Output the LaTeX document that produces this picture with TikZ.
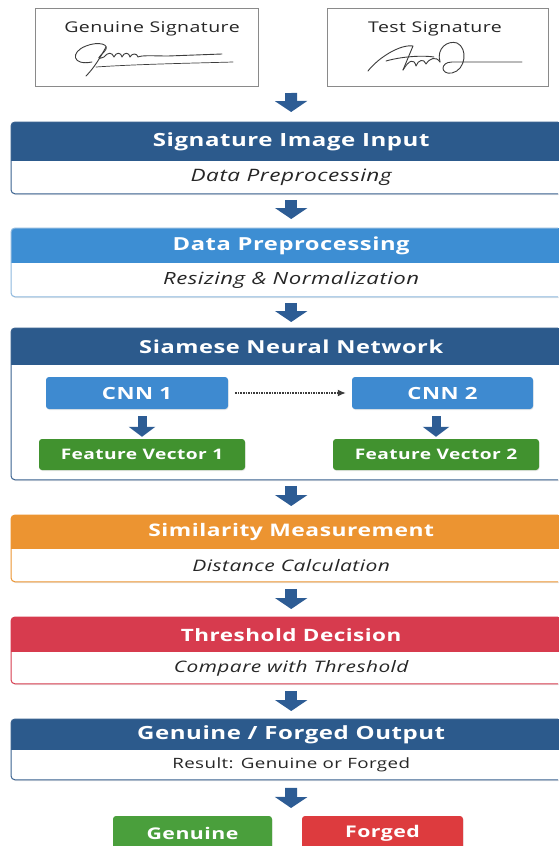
\documentclass[tikz,border=0pt]{standalone}
\usepackage{fontspec}
\setmainfont{Open Sans}[FakeStretch=1.32, LetterSpace=3]
\usetikzlibrary{arrows.meta,backgrounds,shadows}

\definecolor{navy}{HTML}{2C5A8C}
\definecolor{navyedge}{HTML}{3A6290}
\definecolor{skyband}{HTML}{3D8ED3}
\definecolor{skyedge}{HTML}{8DB8DE}
\definecolor{cnnblue}{HTML}{3E8AD0}
\definecolor{leafgreen}{HTML}{41922F}
\definecolor{okgreen}{HTML}{4A9F3C}
\definecolor{amber}{HTML}{EC9431}
\definecolor{crimson}{HTML}{D73B4E}
\definecolor{alarm}{HTML}{DD3B3E}
\definecolor{arrowblue}{HTML}{2D5C94}
\definecolor{ink}{HTML}{262626}
\definecolor{sigedge}{HTML}{8A8A8A}

\newcommand\titlefont[1]{\fontsize{#1}{21}\selectfont\bfseries}
\newcommand\notefont[1]{\fontsize{#1}{19}\selectfont\itshape}

% white stage frame with a coloured title band: band node, lower node, band colour, edge colour
\newcommand\stageframe[4]{%
  \begin{pgfonlayer}{background}
    \fill[white, rounded corners=4pt,
          drop shadow={opacity=0.18, shadow xshift=0.6pt, shadow yshift=-1.2pt}]
      (#1.north west) rectangle (#2.south east);
    \begin{scope}
      \clip[rounded corners=4pt] (#1.north west) rectangle (#2.south east);
      \fill[#3] (#1.north west) rectangle (#1.south east);
    \end{scope}
  \end{pgfonlayer}
  \draw[#4, line width=1pt, rounded corners=4pt] (#1.north west) rectangle (#2.south east);
}

\tikzset{
  band/.style={rectangle, minimum width=560pt, minimum height=#1, inner sep=0pt,
               anchor=north west, text=white},
  lower/.style={rectangle, minimum width=560pt, minimum height=#1, inner sep=0pt,
                anchor=north west, text=ink},
  sigbox/.style={rectangle, draw=sigedge, line width=0.8pt, fill=white, anchor=north west,
                 minimum width=#1, minimum height=78pt, inner sep=0pt},
  siglabel/.style={anchor=base, text=ink, font=\fontsize{14.8}{18}\selectfont},
  sigink/.style={draw=ink!90, line width=0.9pt, line cap=round, line join=round},
  tile/.style={rectangle, rounded corners=3pt, inner sep=0pt, text=white,
               drop shadow={opacity=0.18, shadow xshift=0.5pt, shadow yshift=-1pt}},
  blockarrow/.style={draw=arrowblue, line width=12pt,
                     -{Triangle[width=32pt, length=11pt]}},
  smallarrow/.style={draw=arrowblue, line width=9pt,
                     -{Triangle[width=26pt, length=10pt]}},
}

\begin{document}
\begin{tikzpicture}[x=1pt, y=-1pt]
\useasboundingbox (0,0) rectangle (558,846);
\clip (0,0) rectangle (558,846);

% ---------- input signatures ----------
\node[sigbox=223pt] (gbox) at (35,8) {};
\node[siglabel] (glabel) at (152,32) {Genuine Signature};
\node[sigbox=221pt] (tbox) at (327,8) {};
\node[siglabel] (tlabel) at (435,32) {Test Signature};

% genuine signature strokes
\draw[sigink] (92,62) .. controls (72,66) and (70,52) .. (86,46)
  .. controls (98,41) and (112,44) .. (104,52)
  .. controls (98,58) and (96,60) .. (104,57)
  .. controls (108,52) and (112,52) .. (114,57)
  .. controls (116,52) and (121,52) .. (122,57)
  .. controls (124,52) and (129,52) .. (130,57)
  .. controls (132,53) and (137,53) .. (138,57)
  .. controls (142,55) and (155,56) .. (168,56) -- (222,54);
\draw[sigink] (106,47) .. controls (100,58) and (94,68) .. (86,76);
\draw[sigink, line width=0.7pt] (96,67) .. controls (140,64) and (200,63) .. (233,62);

% test signature strokes
\draw[sigink] (368,71) .. controls (378,58) and (400,44) .. (413,46) -- (403,70);
\draw[sigink] (386,61) .. controls (400,57) and (420,55) .. (434,57);
\draw[sigink] (403,70) .. controls (409,60) and (414,58) .. (416,66)
  .. controls (418,60) and (424,58) .. (426,64)
  .. controls (430,58) and (436,56) .. (440,62);
\draw[sigink] (440,62) .. controls (436,48) and (448,40) .. (457,43)
  .. controls (468,48) and (466,70) .. (452,73)
  .. controls (440,75) and (440,62) .. (452,62) -- (522,62);

\coordinate (sigjoin) at (291,86);

% ---------- stage 1 ----------
\node[band=39pt, font=\titlefont{18.2}] (t1) at (11,122) {Signature Image Input};
\node[lower=32pt, font=\notefont{17.1}] (d1) at (t1.south west) {Data Preprocessing};
\stageframe{t1}{d1}{navy}{navyedge}

% ---------- stage 2 ----------
\node[band=35pt, font=\titlefont{18}] (t2) at (11,228) {Data Preprocessing};
\node[lower=33pt, font=\notefont{16.8}] (d2) at (t2.south west) {Resizing \& Normalization};
\stageframe{t2}{d2}{skyband}{skyedge}

% ---------- stage 3: siamese network ----------
\node[band=37pt, font=\titlefont{17.9}] (t3) at (11,328) {Siamese Neural Network};
\node[lower=114pt] (d3) at (t3.south west) {};
\stageframe{t3}{d3}{navy}{navyedge}

\node[tile, fill=cnnblue, minimum width=182pt, minimum height=32pt,
      font=\fontsize{16.8}{20}\selectfont\bfseries] (c1) at (137,393) {CNN 1};
\node[tile, fill=cnnblue, minimum width=181pt, minimum height=32pt,
      font=\fontsize{16.8}{20}\selectfont\bfseries] (c2) at (442.5,393) {CNN 2};
\node[tile, fill=leafgreen, minimum width=206pt, minimum height=31pt,
      font=\fontsize{14.5}{17}\selectfont\bfseries] (f1) at (142,454.5) {Feature Vector 1};
\node[tile, fill=leafgreen, minimum width=206pt, minimum height=31pt,
      font=\fontsize{14.5}{17}\selectfont\bfseries] (f2) at (436,454.5) {Feature Vector 2};

\draw[ink!90, line width=1.4pt, dash pattern=on 1.5pt off 1.1pt,
      shorten <=7pt, shorten >=6pt, -{Latex[length=8pt, width=7pt]}] (c1) -- (c2);
\draw[smallarrow, shorten <=7pt, shorten >=2pt] (f1.north |- c1.south) -- (f1.north);
\draw[smallarrow, shorten <=7pt, shorten >=2pt] (f2.north |- c2.south) -- (f2.north);

% ---------- stage 4 ----------
\node[band=34pt, font=\titlefont{17.3}] (t4) at (11,515) {Similarity Measurement};
\node[lower=32pt, font=\notefont{15.9}] (d4) at (t4.south west) {Distance Calculation};
\stageframe{t4}{d4}{amber}{amber}

% ---------- stage 5 ----------
\node[band=35pt, font=\titlefont{17}] (t5) at (11,617) {Threshold Decision};
\node[lower=31pt, font=\notefont{15.8}] (d5) at (t5.south west) {Compare with Threshold};
\stageframe{t5}{d5}{crimson}{crimson}

% ---------- stage 6 ----------
\node[band=31pt, font=\titlefont{18.2}] (t6) at (11,719) {Genuine / Forged Output};
\node[lower=29pt, font=\fontsize{14.2}{17}\selectfont] (d6) at (t6.south west) {Result: Genuine or Forged};
\stageframe{t6}{d6}{navy}{navyedge}

% ---------- outcomes ----------
\node[tile, fill=okgreen, minimum width=159pt, minimum height=34pt,
      font=\fontsize{16.1}{19}\selectfont\bfseries] (gen) at (192.5,833) {Genuine};
\node[tile, fill=alarm, minimum width=161pt, minimum height=34pt,
      font=\fontsize{16.1}{19}\selectfont\bfseries] (forged) at (382.5,833) {Forged};
\coordinate (outjoin) at (291,816);

% ---------- flow arrows ----------
\draw[blockarrow, shorten <=7pt, shorten >=10pt] (sigjoin) -- (t1.north);
\draw[blockarrow, shorten <=6pt, shorten >=9pt] (d1.south) -- (t2.north);
\draw[blockarrow, shorten <=6pt, shorten >=6pt] (d2.south) -- (t3.north);
\draw[blockarrow, shorten <=6pt, shorten >=9pt] (d3.south) -- (t4.north);
\draw[blockarrow, shorten <=7pt, shorten >=8pt] (d4.south) -- (t5.north);
\draw[blockarrow, shorten <=7pt, shorten >=8pt] (d5.south) -- (t6.north);
\draw[blockarrow, shorten <=8pt, shorten >=8pt] (d6.south) -- (outjoin);
\end{tikzpicture}
\end{document}
